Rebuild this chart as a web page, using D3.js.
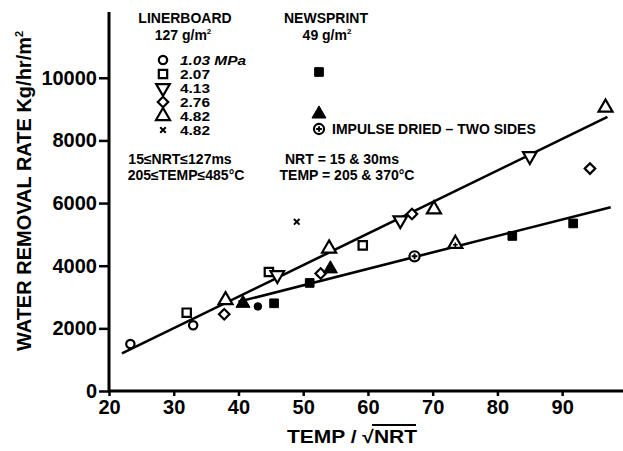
<!DOCTYPE html>
<html>
<head>
<meta charset="utf-8">
<script src="https://cdn.jsdelivr.net/npm/d3@7"></script>
<style>
  body { margin: 0; background: #fff; }
  text { font-family: "Liberation Sans", Arial, sans-serif; font-weight: bold; fill: #000; }
</style>
</head>
<body>
<svg id="chart" width="623" height="451"></svg>
<script>
// linerboard 127 g/m2, open symbols, [TEMP/sqrt(NRT), water removal rate]
const circle103 = [[23.3, 1500], [33, 2100]];
const square207 = [[32, 2500], [44.7, 3800], [59.2, 4650]];
const triDown413 = [[46, 3700], [65, 5450], [85, 7500]];
const diamond276 = [[37.8, 2450], [52.7, 3750], [66.8, 5650], [94.3, 7100]];
const triUp482 = [[38, 2900], [54, 4550], [70.2, 5800], [96.7, 9050]];
const cross482 = [[49, 5400]];

// newsprint 49 g/m2, filled symbols
const newsSquares = [[45.5, 2800], [51, 3450], [82.3, 4950], [91.7, 5350]];
const newsTriangles = [[40.7, 2800], [54.2, 3900]];
const newsCircles = [[43, 2700]];
// impulse dried - two sides
const twoSideCircles = [[67.2, 4300]];
const twoSideTriangles = [[73.5, 4700]];

// fitted lines
const fitLiner = [[22, 1200], [97, 8750]];
const fitNews = [[40, 2850], [97.5, 5870]];

const xTicks = [20, 30, 40, 50, 60, 70, 80, 90];
const yTicks = [0, 2000, 4000, 6000, 8000, 10000];
const linerLabels = ["1.03 MPa", "2.07", "4.13", "2.76", "4.82", "4.82"];

const svg = d3.select("#chart");
const x = d3.scaleLinear().domain([20, 99.4]).range([109, 623]);
const y = d3.scaleLinear().domain([0, 12100]).range([391, 12]);

// axes
const xAxis = svg.append("g")
    .attr("transform", `translate(0,${y(0)})`)
    .call(d3.axisBottom(x).tickValues(xTicks).tickSize(5).tickPadding(4).tickSizeOuter(0));
const yAxis = svg.append("g")
    .attr("transform", `translate(${x(20)},0)`)
    .call(d3.axisLeft(y).tickValues(yTicks).tickSize(10).tickPadding(2).tickSizeOuter(0).tickFormat(d3.format("d")));

[xAxis, yAxis].forEach(g => {
    g.select(".domain").attr("stroke", "#000").attr("stroke-width", 3);
    g.selectAll(".tick line").attr("stroke", "#000").attr("stroke-width", 2.5);
    g.selectAll(".tick text").style("font-size", "20px").style("font-weight", "bold")
        .style("font-family", "'Liberation Sans', Arial, sans-serif").attr("fill", "#000");
});
xAxis.select(".domain").attr("d", `M${x(20)},0H623`);
yAxis.select(".domain").attr("d", `M0,${y(0)}V${y(12100)}`);

// titles
svg.append("text")
    .attr("transform", `translate(31,${(355 + 27) / 2}) rotate(-90)`)
    .attr("text-anchor", "middle")
    .style("font-size", "20px")
    .html('WATER REMOVAL RATE Kg/hr/m<tspan dy="-8" font-size="11">2</tspan>');

svg.append("text")
    .attr("x", 287).attr("y", 443)
    .style("font-size", "18px")
    .attr("textLength", 130).attr("lengthAdjust", "spacingAndGlyphs")
    .text("TEMP / \u221ANRT");

// overline on NRT
svg.append("line").attr("x1", 372).attr("x2", 416).attr("y1", 425).attr("y2", 425)
    .attr("stroke", "#000").attr("stroke-width", 2);

// fitted lines
const line = d3.line().x(d => x(d[0])).y(d => y(d[1]));
[fitLiner, fitNews].forEach(pts => {
    svg.append("path").datum(pts).attr("d", line)
        .attr("fill", "none").attr("stroke", "#000").attr("stroke-width", 2.6);
});

// symbol helpers
const sym = (type, size) => d3.symbol().type(type).size(size)();
function drawSymbol(g, kind, cx, cy) {
    const s = g.append("g").attr("transform", `translate(${cx},${cy})`);
    const p = (d, fill, rot) => s.append("path").attr("d", d)
        .attr("transform", rot ? `rotate(${rot})` : null)
        .attr("fill", fill).attr("stroke", "#000").attr("stroke-width", fill === "#000" ? 1 : 2.2);
    switch (kind) {
        case "circle": p(sym(d3.symbolCircle, 55), "#fff"); break;
        case "square": p(sym(d3.symbolSquare, 70), "#fff"); break;
        case "triDown": p(sym(d3.symbolTriangle, 80), "#fff", 180); break;
        case "diamond": p(sym(d3.symbolSquare, 55), "#fff", 45); break;
        case "triUp": p(sym(d3.symbolTriangle, 85), "#fff"); break;
        case "cross": s.append("path").attr("d", sym(d3.symbolX, 22)).attr("fill", "none")
            .attr("stroke", "#000").attr("stroke-width", 2); break;
        case "fSquare": p(sym(d3.symbolSquare, 75), "#000"); break;
        case "fTriangle": p(sym(d3.symbolTriangle, 85), "#000"); break;
        case "fCircle": p(sym(d3.symbolCircle, 45), "#000"); break;
        case "plusCircle":
            p(sym(d3.symbolCircle, 80), "#fff");
            s.append("path").attr("d", sym(d3.symbolCross, 18)).attr("fill", "#000");
            break;
        case "plusTriangle":
            p(sym(d3.symbolTriangle, 85), "#fff");
            s.append("path").attr("d", sym(d3.symbolCross, 12)).attr("transform", "translate(0,1)").attr("fill", "#000");
            break;
    }
}

const series = [
    [circle103, "circle"], [square207, "square"], [triDown413, "triDown"],
    [diamond276, "diamond"], [triUp482, "triUp"], [cross482, "cross"],
    [newsSquares, "fSquare"], [newsTriangles, "fTriangle"], [newsCircles, "fCircle"],
    [twoSideCircles, "plusCircle"], [twoSideTriangles, "plusTriangle"]
];
const marks = svg.append("g");
series.forEach(([pts, kind]) => {
    pts.forEach(d => drawSymbol(marks, kind, x(d[0]), y(d[1])));
});

// legend: linerboard
const leg = svg.append("g");
const txt = (tx, ty, s, size, anchor) => leg.append("text").attr("x", tx).attr("y", ty)
    .attr("text-anchor", anchor || "start").style("font-size", (size || 14) + "px").html(s);

txt(185, 23, "LINERBOARD", 14, "middle");
txt(183, 40, '127 g/m<tspan dy="-6" font-size="8">2</tspan>', 14, "middle");
const legKinds = ["circle", "square", "triDown", "diamond", "triUp", "cross"];
legKinds.forEach((k, i) => {
    drawSymbol(leg, k, 163, 60 + i * 14);
    const t = txt(180, 64.5 + i * 14, linerLabels[i], 12)
        .attr("textLength", i === 0 ? 66 : 30).attr("lengthAdjust", "spacingAndGlyphs");
    if (i === 0) t.style("font-style", "italic");
});
txt(180, 164, "15\u2264NRT\u2264127ms", 14, "middle");
txt(186, 180, "205\u2264TEMP\u2264485\u00B0C", 14, "middle");

// legend: newsprint
txt(326, 23, "NEWSPRINT", 14, "middle");
txt(327, 40, '49 g/m<tspan dy="-6" font-size="8">2</tspan>', 14, "middle");
drawSymbol(leg, "fSquare", 319, 72);
drawSymbol(leg, "fTriangle", 319, 114);
drawSymbol(leg, "plusCircle", 319, 129);
txt(332, 134, "IMPULSE DRIED \u2013 TWO SIDES", 14);
txt(342, 164, "NRT = 15 &amp; 30ms", 14, "middle");
txt(347, 180, "TEMP = 205 &amp; 370\u00B0C", 14, "middle");
</script>
</body>
</html>
